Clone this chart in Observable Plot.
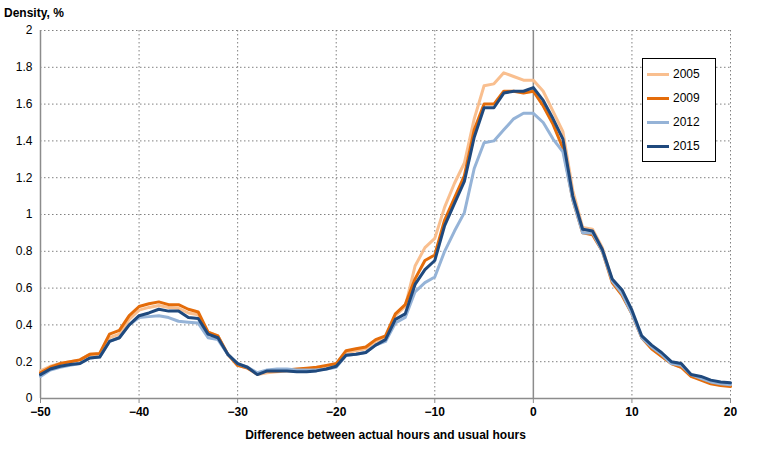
<!DOCTYPE html>
<html><head><meta charset="utf-8">
<script src="https://cdn.jsdelivr.net/npm/d3@7"></script>
<script src="https://cdn.jsdelivr.net/npm/@observablehq/plot@0.6"></script>
<style>
body{margin:0;background:#fff;font-family:"Liberation Sans",Arial,sans-serif;}
#wrap{position:relative;width:758px;height:456px;}
#ylab{position:absolute;left:4px;top:6px;font-size:12px;font-weight:bold;color:#000;}
#legend{position:absolute;left:642px;top:58px;width:68px;padding:3px 0 3px 4px;border:1px solid #000;background:#fff;font-size:12px;}
#legend div{display:flex;align-items:center;height:24px;}
#legend span.sw{display:inline-block;width:22px;height:3px;margin-right:4px;}
</style></head><body>
<div id="wrap"><div id="chart"></div><div id="ylab">Density, %</div><div id="legend"></div></div>
<script>
const hours = d3.range(-50, 21);
const years = ["2005","2009","2012","2015"];
const colors = ["#f9bf8f","#e46c0a","#95b3d7","#1f497d"];
const s2005 = [.15,.175,.19,.20,.21,.24,.24,.33,.35,.43,.48,.495,.505,.495,.49,.465,.455,.36,.34,.24,.18,.165,.13,.14,.145,.15,.15,.155,.16,.17,.185,.25,.26,.27,.31,.33,.45,.50,.72,.82,.87,1.04,1.17,1.28,1.52,1.70,1.71,1.77,1.75,1.73,1.73,1.67,1.56,1.45,1.13,.93,.92,.82,.64,.57,.46,.33,.27,.23,.19,.17,.12,.11,.085,.075,.07];
const s2009 = [.14,.17,.19,.20,.21,.24,.245,.35,.37,.45,.50,.515,.525,.51,.51,.485,.47,.36,.34,.24,.18,.165,.135,.15,.15,.155,.16,.165,.17,.18,.19,.26,.27,.28,.32,.34,.46,.51,.65,.75,.78,.97,1.09,1.21,1.46,1.60,1.60,1.67,1.67,1.66,1.67,1.59,1.49,1.36,1.08,.90,.89,.80,.63,.56,.46,.33,.27,.23,.19,.17,.12,.10,.08,.07,.065];
const s2012 = [.12,.155,.17,.18,.19,.22,.225,.31,.33,.40,.44,.445,.45,.44,.42,.415,.41,.33,.32,.24,.19,.17,.14,.155,.16,.16,.155,.155,.155,.16,.17,.235,.24,.25,.29,.31,.41,.44,.58,.63,.66,.80,.91,1.01,1.25,1.39,1.40,1.46,1.52,1.55,1.55,1.50,1.41,1.34,1.08,.90,.90,.80,.64,.57,.46,.33,.28,.24,.19,.18,.13,.11,.09,.08,.075];
const s2015 = [.13,.16,.175,.185,.19,.22,.225,.31,.33,.40,.45,.465,.485,.475,.475,.44,.435,.35,.33,.24,.19,.17,.13,.15,.15,.15,.145,.145,.15,.16,.175,.235,.24,.25,.29,.32,.43,.46,.62,.70,.75,.94,1.06,1.18,1.42,1.58,1.58,1.66,1.67,1.67,1.69,1.62,1.52,1.41,1.10,.92,.91,.81,.65,.59,.48,.34,.29,.25,.20,.19,.13,.12,.10,.09,.085];
const series = [s2005,s2009,s2012,s2015];
const data = years.flatMap((y,i)=>hours.map((h,j)=>({year:y,h,v:series[i][j]})));
const xTicks = [-50,-40,-30,-20,-10,0,10,20];
const yTicks = [0,0.2,0.4,0.6,0.8,1,1.2,1.4,1.6,1.8,2];
const chart = Plot.plot({
  width:758,height:456,marginLeft:40,marginRight:28,marginTop:30,marginBottom:58,
  style:{fontFamily:"Liberation Sans, Arial, sans-serif",fontSize:"12px",color:"#000"},
  x:{domain:[-50,20],ticks:xTicks,label:null,tickSize:5,tickPadding:4},
  y:{domain:[0,2],ticks:yTicks,label:null,tickSize:0,tickPadding:8,tickFormat:d=>String(+d.toFixed(1))},
  color:{domain:years,range:colors},
  marks:[
    Plot.gridX(xTicks.filter(d=>d!==-50&&d!==0),{stroke:"#808080",strokeOpacity:1,strokeDasharray:"1.5,2.5"}),
    Plot.gridY(yTicks.filter(d=>d!==0),{stroke:"#808080",strokeOpacity:1,strokeDasharray:"1.5,2.5"}),
    Plot.ruleX([-50,0],{stroke:"#8c8c8c",strokeWidth:1.5}),
    Plot.ruleY([0],{stroke:"#8c8c8c",strokeWidth:1.5}),
    Plot.axisX({ticks:xTicks,tickSize:5,stroke:"#8c8c8c",tickPadding:4,label:"Difference between actual hours and usual hours",labelAnchor:"center",labelArrow:"none",labelOffset:40,fontWeight:"bold"}),
    Plot.line(data,{x:"h",y:"v",stroke:"year",strokeWidth:3,curve:"linear"})
  ]
});
document.getElementById("chart").appendChild(chart);
const lg=document.getElementById("legend");
years.forEach((y,i)=>{const d=document.createElement("div");d.innerHTML=`<span class="sw" style="background:${colors[i]}"></span>${y}`;lg.appendChild(d);});
</script></body></html>
